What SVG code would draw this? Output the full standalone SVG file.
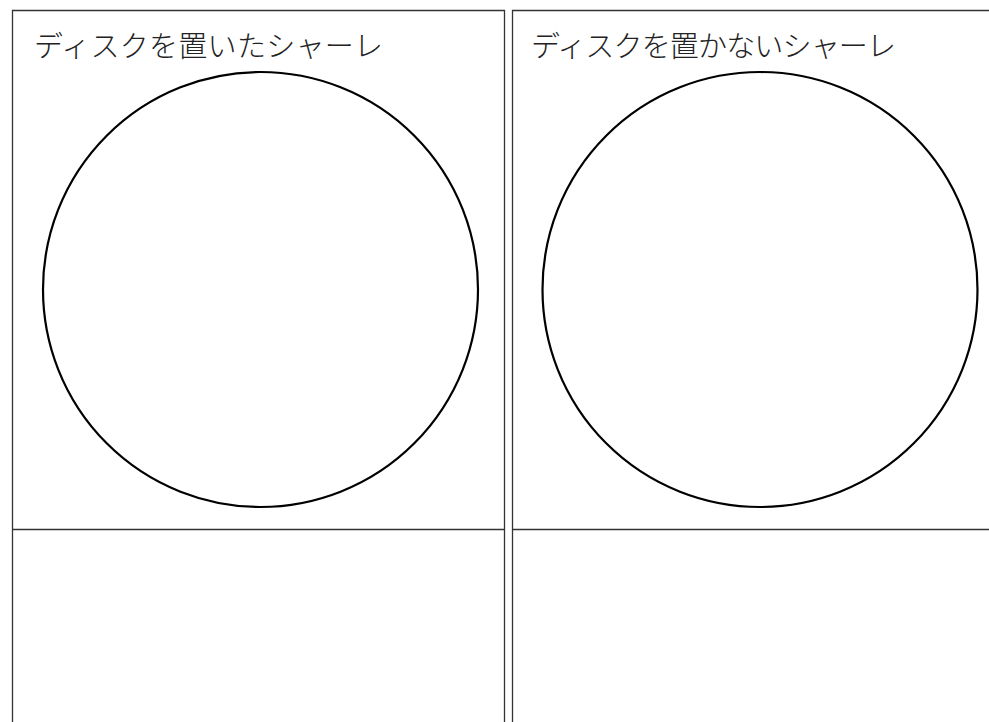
<svg xmlns="http://www.w3.org/2000/svg" width="989" height="722" viewBox="0 0 989 722">
<style>
.box{fill:none;stroke:#333;stroke-width:1.3}
.dish{fill:none;stroke:#000;stroke-width:2.2}
.lbl{font-family:"Noto Sans CJK JP","Noto Sans CJK SC",sans-serif;font-size:29px;font-weight:300;fill:#222}
</style>
<rect width="989" height="722" fill="#fff"/>
<g id="left-panel">
<path class="box" d="M12.5,730 V10.5 H504.5 V730 M12.5,529.5 H504.5"/>
<text class="lbl" x="34" y="57" textLength="349" lengthAdjust="spacing">ディスクを置いたシャーレ</text>
<circle class="dish" cx="260.5" cy="289.5" r="217.5"/>
</g>
<g id="right-panel">
<path class="box" d="M512.5,730 V10.5 H995 M512.5,529.5 H995"/>
<text class="lbl" x="531" y="57" textLength="365" lengthAdjust="spacing">ディスクを置かないシャーレ</text>
<circle class="dish" cx="760" cy="289.5" r="217.5"/>
</g>
<g id="connectors"></g>
</svg>
